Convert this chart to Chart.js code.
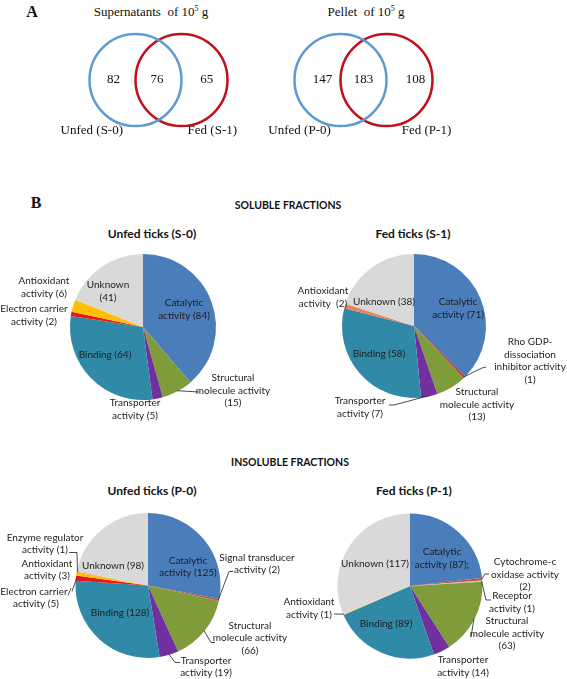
<!DOCTYPE html>
<html>
<head>
<meta charset="utf-8">
<script src="https://cdn.jsdelivr.net/npm/chart.js@4.4.0/dist/chart.umd.min.js"></script>
<style>
body { margin: 0; background: #fff; }
#page { position: relative; width: 567px; height: 679px; overflow: hidden; font-family: Lato, 'Open Sans', sans-serif; color: #111; }
.abs { position: absolute; white-space: nowrap; transform: translate(-50%, -50%); }
.panel { font-family: 'Liberation Serif', serif; font-weight: bold; font-size: 16px; }
.serif { font-family: 'Liberation Serif', serif; font-size: 13px; }
.serif sup { font-size: 8px; vertical-align: 5px; line-height: 0; }
.sect { font-weight: bold; font-size: 10.5px; }
.ptitle { font-weight: bold; font-size: 12px; }
canvas { position: absolute; }
</style>
</head>
<body>
<div id="page">
  <div class="abs panel" style="left:32px;top:12px;">A</div>
  <div class="abs serif" style="left:151px;top:12px;">Supernatants&nbsp; of 10<sup>5</sup> g</div>
  <div class="abs serif" style="left:366px;top:12px;">Pellet&nbsp; of 10<sup>5</sup> g</div>

  <div class="abs panel" style="left:36px;top:203px;">B</div>
  <div class="abs sect" style="left:288px;top:205px;">SOLUBLE FRACTIONS</div>
  <div class="abs ptitle" style="left:152px;top:233px;">Unfed ticks (S-0)</div>
  <div class="abs ptitle" style="left:413px;top:233px;">Fed ticks (S-1)</div>

  <div class="abs sect" style="left:290px;top:462px;">INSOLUBLE FRACTIONS</div>
  <div class="abs ptitle" style="left:152px;top:490px;">Unfed ticks (P-0)</div>
  <div class="abs ptitle" style="left:414px;top:490px;">Fed ticks (P-1)</div>

  <canvas id="vennS" width="283" height="220" style="left:16.5px;top:-30px;"></canvas>
  <canvas id="vennP" width="283" height="220" style="left:221.5px;top:-30px;"></canvas>
  <canvas id="pieS0" width="283" height="200" style="left:0;top:240px;"></canvas>
  <canvas id="pieS1" width="284" height="200" style="left:283px;top:240px;"></canvas>
  <canvas id="pieP0" width="310" height="182" style="left:0;top:497px;"></canvas>
  <canvas id="pieP1" width="284" height="182" style="left:283px;top:497px;"></canvas>
</div>
<script>
// ---- Venn counts (only-unfed, shared, only-fed)
const supCounts = [82, 76, 65];
const pelCounts = [147, 183, 108];
const supSets = ['Unfed (S-0)', 'Fed (S-1)'];
const pelSets = ['Unfed (P-0)', 'Fed (P-1)'];

// ---- Pie data, clockwise from 12 o'clock
const s0Cats = ['Catalytic activity', 'Structural molecule activity', 'Transporter activity', 'Binding', 'Electron carrier activity', 'Antioxidant activity', 'Unknown'];
const s0Vals = [84, 15, 5, 64, 2, 6, 41];

const s1Cats = ['Catalytic activity', 'Rho GDP-dissociation inhibitor activity', 'Structural molecule activity', 'Transporter activity', 'Binding', 'Antioxidant activity', 'Unknown'];
const s1Vals = [71, 1, 13, 7, 58, 2, 38];

const p0Cats = ['Catalytic activity', 'Signal transducer activity', 'Structural molecule activity', 'Transporter activity', 'Binding', 'Electron carrier activity', 'Antioxidant activity', 'Enzyme regulator activity', 'Unknown'];
const p0Vals = [125, 2, 66, 19, 128, 5, 3, 1, 98];

const p1Cats = ['Catalytic activity', 'Cytochrome-c oxidase activity', 'Receptor activity', 'Structural molecule activity', 'Transporter activity', 'Binding', 'Antioxidant activity', 'Unknown'];
const p1Vals = [87, 2, 1, 63, 14, 89, 1, 117];

const COLORS = {
    'Catalytic activity': '#4A7DBA',
    'Binding': '#3089A6',
    'Unknown': '#D9D9D9',
    'Structural molecule activity': '#7F9C3B',
    'Transporter activity': '#7030A0',
    'Antioxidant activity': '#FFC000',
    'Electron carrier activity': '#E8171A',
    'Rho GDP-dissociation inhibitor activity': '#B5443C',
    'Signal transducer activity': '#C0504D',
    'Enzyme regulator activity': '#F79646',
    'Cytochrome-c oxidase activity': '#C0504D',
    'Receptor activity': '#E6B9B8'
};

// ========================
// Venn diagrams (bubble chart, two sets at x = 0 and x = 1)
// ========================
const vennText = {
    id: 'vennText',
    afterDatasetsDraw(chart, args, opts) {
        const ctx = chart.ctx, xs = chart.scales.x, ys = chart.scales.y;
        ctx.save();
        ctx.fillStyle = '#111';
        ctx.font = '13px "Liberation Serif", serif';
        ctx.textAlign = 'center';
        ctx.textBaseline = 'middle';
        opts.counts.forEach((c, i) => ctx.fillText(c, xs.getPixelForValue(opts.countX[i]), ys.getPixelForValue(0)));
        opts.sets.forEach((s, i) => ctx.fillText(s, xs.getPixelForValue(opts.setX[i]), ys.getPixelForValue(-1)));
        ctx.restore();
    }
};

// chart area: 138 px wide (x -1..2), 101 px tall (y -1..1), centred in the canvas
function makeVenn(id, counts, sets, countX, setX) {
    const cv = document.getElementById(id);
    const padX = (cv.width - 138) / 2, padY = (cv.height - 101) / 2;
    new Chart(cv, {
        type: 'bubble',
        data: {
            datasets: [
                { data: [{ x: 0, y: 0, r: 46 }], borderColor: '#5B9BD5', backgroundColor: 'transparent', borderWidth: 2.5, clip: false },
                { data: [{ x: 1, y: 0, r: 46 }], borderColor: '#C0101A', backgroundColor: 'transparent', borderWidth: 2.5, clip: false }
            ]
        },
        options: {
            responsive: false,
            animation: false,
            layout: { padding: { left: padX, right: padX, top: padY, bottom: padY } },
            scales: {
                x: { display: false, min: -1, max: 2 },
                y: { display: false, min: -1, max: 1 }
            },
            plugins: { legend: { display: false }, tooltip: { enabled: false }, vennText: { counts, sets, countX, setX } }
        },
        plugins: [vennText]
    });
}

makeVenn('vennS', supCounts, supSets, [-0.48, 0.47, 1.55], [-0.95, 1.67]);
makeVenn('vennP', pelCounts, pelSets, [-0.39, 0.5, 1.63], [-0.89, 1.87]);

// ========================
// Pies with outside labels and leader lines
// ========================
const sliceLabels = {
    id: 'sliceLabels',
    afterDatasetsDraw(chart, args, opts) {
        const ctx = chart.ctx;
        const arcs = chart.getDatasetMeta(0).data;
        const vals = chart.data.datasets[0].data;
        ctx.save();
        ctx.font = '10px Lato, sans-serif';
        ctx.fillStyle = '#1e1e1e';
        ctx.strokeStyle = '#1e1e1e';
        ctx.lineWidth = 0.8;
        ctx.textBaseline = 'middle';
        opts.items.forEach((it, i) => {
            const a = arcs[i];
            const cx = a.x, cy = a.y;
            if (it.leader) {
                const mid = (a.startAngle + a.endAngle) / 2;
                ctx.beginPath();
                ctx.moveTo(cx + Math.cos(mid) * a.outerRadius * 0.99, cy + Math.sin(mid) * a.outerRadius * 0.99);
                it.leader.forEach(p => ctx.lineTo(cx + p[0], cy + p[1]));
                ctx.stroke();
            }
            ctx.textAlign = it.align || 'center';
            it.lines.forEach((ln, k) => ctx.fillText(ln.replace('{v}', vals[i]), cx + it.dx, cy + it.dy + k * 12.5));
        });
        ctx.restore();
    }
};

function makePie(id, cats, vals, cx, cy, r, items, recolor = {}) {
    const cv = document.getElementById(id);
    const m = r + 3;
    new Chart(cv, {
        type: 'pie',
        data: {
            labels: cats,
            datasets: [{ data: vals, backgroundColor: cats.map(c => recolor[c] || COLORS[c]), borderWidth: 0, radius: r }]
        },
        options: {
            responsive: false,
            animation: false,
            layout: { padding: { left: cx - m, right: cv.width - cx - m, top: cy - m, bottom: cv.height - cy - m } },
            plugins: { legend: { display: false }, tooltip: { enabled: false }, sliceLabels: { items } }
        },
        plugins: [sliceLabels]
    });
}

makePie('pieS0', s0Cats, s0Vals, 143, 87, 73, [
    { lines: ['Catalytic', 'activity ({v})'], dx: 41, dy: -24 },
    { lines: ['Structural', 'molecule activity', '({v})'], dx: 90, dy: 51, leader: [[56, 65]] },
    { lines: ['Transporter', 'activity ({v})'], dx: -8, dy: 76 },
    { lines: ['Binding ({v})'], dx: -38, dy: 28 },
    { lines: ['Electron carrier', 'activity ({v})'], dx: -109, dy: -18 },
    { lines: ['Antioxidant', 'activity ({v})'], dx: -99, dy: -46 },
    { lines: ['Unknown', '({v})'], dx: -35, dy: -42 }
]);

makePie('pieS1', s1Cats, s1Vals, 131, 86, 72, [
    { lines: ['Catalytic', 'activity ({v})'], dx: 44, dy: -24 },
    { lines: ['Rho GDP-', 'dissociation', 'inhibitor activity', '({v})'], dx: 116, dy: 16, leader: [[68, 42], [72, 41]] },
    { lines: ['Structural', 'molecule activity', '({v})'], dx: 63, dy: 66 },
    { lines: ['Transporter', 'activity ({v})'], dx: -54, dy: 75, leader: [[-20, 79], [-25, 79]] },
    { lines: ['Binding ({v})'], dx: -35, dy: 28 },
    { lines: ['Antioxidant', 'activity  ({v})'], dx: -91, dy: -35 },
    { lines: ['Unknown ({v})'], dx: -30, dy: -24 }
], { 'Antioxidant activity': '#E8845C' });

makePie('pieP0', p0Cats, p0Vals, 148, 88.5, 72.5, [
    { lines: ['Catalytic', 'activity ({v})'], dx: 40, dy: -25 },
    { lines: ['Signal transducer', 'activity ({v})'], dx: 109, dy: -28, leader: [[81, -14], [85, -14]] },
    { lines: ['Structural', 'molecule activity', '({v})'], dx: 102, dy: 40, leader: [[63, 57], [67, 57]] },
    { lines: ['Transporter', 'activity ({v})'], dx: 58, dy: 75, leader: [[27, 77], [32, 77]] },
    { lines: ['Binding ({v})'], dx: -28, dy: 27 },
    { lines: ['Electron carrier/', 'activity ({v})'], dx: -112, dy: 6, leader: [[-76, 6]] },
    { lines: ['Antioxidant', 'activity ({v})'], dx: -101, dy: -22 },
    { lines: ['Enzyme regulator', 'activity ({v})'], dx: -103, dy: -48, leader: [[-71, -33], [-79, -33]] },
    { lines: ['Unknown ({v})'], dx: -35, dy: -20 }
]);

makePie('pieP1', p1Cats, p1Vals, 127, 89, 72.5, [
    { lines: ['Catalytic', 'activity ({v});'], dx: 32, dy: -34 },
    { lines: ['Cytochrome-c', 'oxidase activity', '({v})'], dx: 115, dy: -24, leader: [[75, -12], [79, -12]] },
    { lines: ['Receptor', 'activity ({v})'], dx: 102, dy: 10, leader: [[76, 14], [81, 14]] },
    { lines: ['Structural', 'molecule activity', '({v})'], dx: 97, dy: 35, leader: [[61, 51]] },
    { lines: ['Transporter', 'activity ({v})'], dx: 53, dy: 74 },
    { lines: ['Binding ({v})'], dx: -24, dy: 38 },
    { lines: ['Antioxidant', 'activity ({v})'], dx: -101, dy: 16, leader: [[-76, 28]] },
    { lines: ['Unknown ({v})'], dx: -35, dy: -22 }
], { 'Antioxidant activity': '#F2D46B' });
</script>
</body>
</html>
